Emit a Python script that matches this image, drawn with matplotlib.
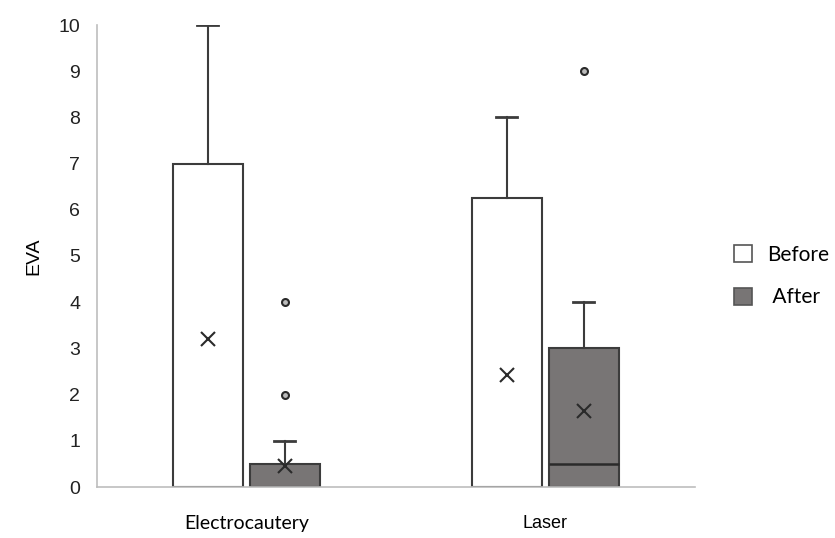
import matplotlib.pyplot as plt
from matplotlib.patches import Patch

# box statistics (EVA pain score)
groups = ['Electrocautery', 'Laser']
series = ['Before', ' After']
q1 = [[0, 0], [0, 0]]
med = [[0, 0], [0, 0.5]]
q3 = [[7, 0.5], [6.25, 3]]
whislo = [[0, 0], [0, 0]]
whishi = [[10, 1], [8, 4]]
means = [[3.2, 0.45], [2.42, 1.65]]
fliers = [[[], [2, 4]], [[], [9]]]

colors = ['white', '#787575']
edge = '#3c3c3c'

fig = plt.figure(figsize=(8.35, 5.38), dpi=100)
ax = fig.add_axes([97/835, 1-487/538, 598/835, 462/538])

centers = [0.5, 1.5]
offsets = [-0.13, 0.128]
w = 0.234

for gi, g in enumerate(groups):
    for si, s in enumerate(series):
        stats = [dict(q1=q1[gi][si], med=med[gi][si], q3=q3[gi][si],
                      whislo=whislo[gi][si], whishi=whishi[gi][si],
                      mean=means[gi][si], fliers=fliers[gi][si], label=s)]
        ax.bxp(stats, positions=[centers[gi] + offsets[si]], widths=w,
               capwidths=0.07, patch_artist=True, showmeans=True,
               boxprops=dict(facecolor=colors[si], edgecolor=edge, linewidth=1.5),
               medianprops=dict(color='#2a2a2a', linewidth=1.8),
               whiskerprops=dict(color=edge, linewidth=1.5),
               capprops=dict(color=edge, linewidth=2),
               meanprops=dict(marker='x', markersize=10, markeredgecolor='#2a2a2a',
                              markeredgewidth=1.5),
               flierprops=dict(marker='o', markersize=5, markerfacecolor='#bbbbbb',
                               markeredgecolor='#2a2a2a', markeredgewidth=1.5))

ax.set_xlim(0, 2)
ax.set_ylim(0, 10)
ax.set_yticks(range(0, 11))
ax.set_xticks(centers)
ax.set_xticklabels(groups, fontsize=14)
xl = ax.get_xticklabels()
xl[0].set_fontfamily('Lato')
xl[1].set_fontfamily('Liberation Sans')
xl[1].set_fontsize(13)
ax.tick_params(axis='x', length=0, pad=20)
ax.tick_params(axis='y', length=0, pad=12, labelsize=14, labelcolor='#222222')
for t in ax.get_yticklabels():
    t.set_fontfamily('Liberation Sans')
ax.set_ylabel('EVA', fontfamily='Liberation Sans', fontsize=14, labelpad=12)
for sp in ['top', 'right']:
    ax.spines[sp].set_visible(False)
for sp in ['left', 'bottom']:
    ax.spines[sp].set_color('#bdbdbd')
    ax.spines[sp].set_linewidth(1.2)

handles = [Patch(facecolor=colors[i], edgecolor='#555555', linewidth=1.2, label=series[i])
           for i in range(2)]
fig.legend(handles=handles, loc='center left', bbox_to_anchor=(734/835, 1-276/538),
           frameon=False, prop=dict(family='Lato', size=15), handlelength=0.85,
           handleheight=0.85, handletextpad=0.75, labelspacing=1.1, borderpad=0,
           borderaxespad=0)

fig.savefig('out.png', dpi=100)
